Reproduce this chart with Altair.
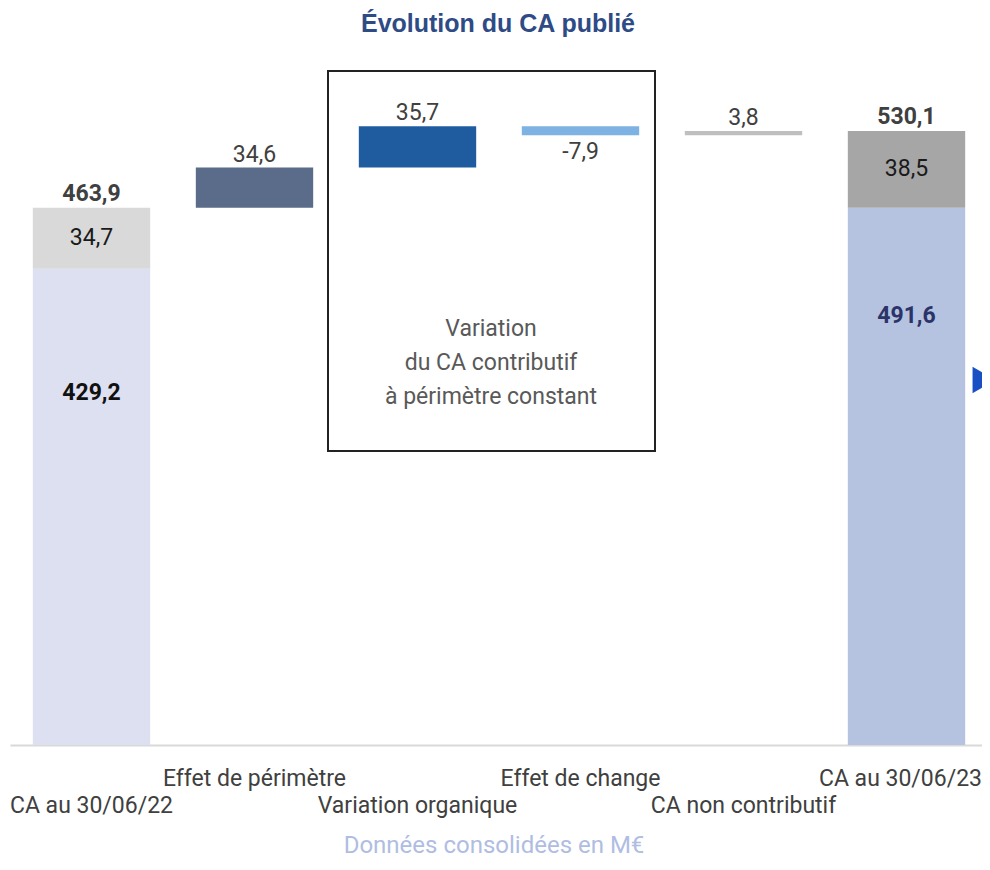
import altair as alt
import pandas as pd

# ---------------- data ----------------
categories = ["CA au 30/06/22", "Effet de périmètre", "Variation organique",
              "Effet de change", "CA non contributif", "CA au 30/06/23"]
start_contrib = 429.2
start_noncontrib = 34.7
deltas = [34.6, 35.7, -7.9, 3.8]
end_contrib = 491.6
end_noncontrib = 38.5
# level at which the two stacked segments meet, as drawn in the picture
drawn_split = [411.2, 463.9]

seg_names = ["s_base", "s_nc", "d0", "d1", "d2", "d3", "e_base", "e_nc"]
seg_colors = ["#dde0f0", "#d9d9d9", "#5b6b8a", "#1f5c9f", "#7db2e2", "#bfbfbf", "#b5c3e1", "#a6a6a6"]

title_text = "Évolution du CA publié"
footer_text = "Données consolidées en M€"
box_text = ["Variation", "du CA contributif", "à périmètre constant"]
upper_labels = ["Effet de périmètre", "Effet de change", "CA au 30/06/23"]


def fmt(v):
    return f"{v:.1f}".replace(".", ",")


# ---------------- tables ----------------
start_total = start_contrib + start_noncontrib
end_total = end_contrib + end_noncontrib

rows = [dict(cat=categories[0], y0=0, y1=drawn_split[0], seg="s_base"),
        dict(cat=categories[0], y0=drawn_split[0], y1=start_total, seg="s_nc")]
running = start_total
delta_rows = []
for i, d in enumerate(deltas):
    rows.append(dict(cat=categories[i + 1], y0=running, y1=running + d, seg=f"d{i}"))
    delta_rows.append(dict(cat=categories[i + 1], ly=running + d, txt=fmt(d), neg=d < 0))
    running += d
rows.append(dict(cat=categories[5], y0=0, y1=drawn_split[1], seg="e_base"))
rows.append(dict(cat=categories[5], y0=drawn_split[1], y1=end_total, seg="e_nc"))
bars = pd.DataFrame(rows)

totals = pd.DataFrame([dict(cat=categories[0], ly=start_total, txt=fmt(start_total)),
                       dict(cat=categories[5], ly=end_total, txt=fmt(end_total))])
deltas_df = pd.DataFrame(delta_rows)
pos_df = deltas_df[~deltas_df["neg"]]
neg_df = deltas_df[deltas_df["neg"]]
nc_df = pd.DataFrame([dict(cat=categories[0], ly=(drawn_split[0] + start_total) / 2, txt=fmt(start_noncontrib)),
                      dict(cat=categories[5], ly=(drawn_split[1] + end_total) / 2, txt=fmt(end_noncontrib))])
contrib_df = pd.DataFrame([dict(cat=categories[0], ly=start_total, txt=fmt(start_contrib), col="#111111"),
                           dict(cat=categories[5], ly=end_total, txt=fmt(end_contrib), col="#2b3468")])

# ---------------- encodings ----------------
FONT = "Roboto"
W, H = 972, 695
upper_test = "indexof(" + str(upper_labels).replace("'", '"') + ", datum.value) >= 0"
last_test = 'datum.value == "' + categories[-1] + '"'

x_enc = alt.X(
    "cat:N", sort=categories,
    scale=alt.Scale(paddingInner=0.28, paddingOuter=0.14, range=[0, 978]),
    axis=alt.Axis(title=None, labelAngle=0, ticks=False, tickSize=0,
                  domainColor="#d9d9d9", domainWidth=2,
                  labelFont=FONT, labelFontSize=23, labelColor="#404040",
                  labelBaseline="alphabetic", labelLimit=0, labelOverlap=False,
                  labelOffset={"condition": {"test": last_test, "value": -6}, "value": 0},
                  labelPadding={"condition": {"test": upper_test, "value": 40}, "value": 67}),
)
y_scale = alt.Scale(domain=[0, 600], nice=False, zero=True)

bar_layer = alt.Chart(bars).mark_bar().encode(
    x=x_enc,
    y=alt.Y("y0:Q", scale=y_scale, axis=None),
    y2="y1:Q",
    color=alt.Color("seg:N", scale=alt.Scale(domain=seg_names, range=seg_colors), legend=None),
)


def text_layer(df, weight, dy, color=None, size=23):
    mk = alt.Chart(df).mark_text(font=FONT, fontSize=size, fontWeight=weight,
                                 baseline="middle", align="center", dy=dy,
                                 color=color if color else "#000")
    enc = dict(x=x_enc, y=alt.Y("ly:Q", scale=y_scale, axis=None), text="txt:N")
    if color is None:
        enc["color"] = alt.Color("col:N", scale=None)
    return mk.encode(**enc)


totals_layer = text_layer(totals, "bold", -14, "#404040")
pos_layer = text_layer(pos_df, "normal", -13, "#404040")
neg_layer = text_layer(neg_df, "normal", 17, "#404040")
nc_layer = text_layer(nc_df, "normal", 0, "#1a1a1a")
contrib_layer = text_layer(contrib_df, "bold", 185)

one = pd.DataFrame({"a": [0]})

box = alt.Chart(one).mark_rect(fillOpacity=0, stroke="#222222", strokeWidth=2).encode(
    x=alt.value(318), x2=alt.value(645), y=alt.value(21), y2=alt.value(401))

box_label = alt.Chart(one).mark_text(font=FONT, fontSize=23, color="#595959",
                                     lineHeight=34, align="center", baseline="middle").encode(
    x=alt.value(481), y=alt.value(279), text=alt.value(box_text))

title = alt.Chart(one).mark_text(font="Liberation Sans", fontSize=25, fontWeight="bold",
                                 color="#2e4b85", align="center", baseline="alphabetic").encode(
    x=alt.value(488), y=alt.value(-18), text=alt.value(title_text))

footer = alt.Chart(one).mark_text(font=FONT, fontSize=24, color="#b0bde2",
                                  align="center", baseline="alphabetic").encode(
    x=alt.value(484), y=alt.value(803), text=alt.value(footer_text))

arrow = alt.Chart(one).mark_point(shape="triangle-right", size=700, filled=True,
                                  color="#1a4fc4", opacity=1).encode(
    x=alt.value(974), y=alt.value(330))

chart = alt.layer(
    bar_layer, totals_layer, pos_layer, neg_layer, nc_layer, contrib_layer,
    box, box_label, title, footer, arrow,
).properties(
    width=W, height=H,
    padding={"left": 2, "top": 42, "right": 0, "bottom": 114},
    autosize=alt.AutoSizeParams(type="none"),
).configure_view(stroke=None)

chart.save("out.html", embed_options={"renderer": "svg", "actions": False})
